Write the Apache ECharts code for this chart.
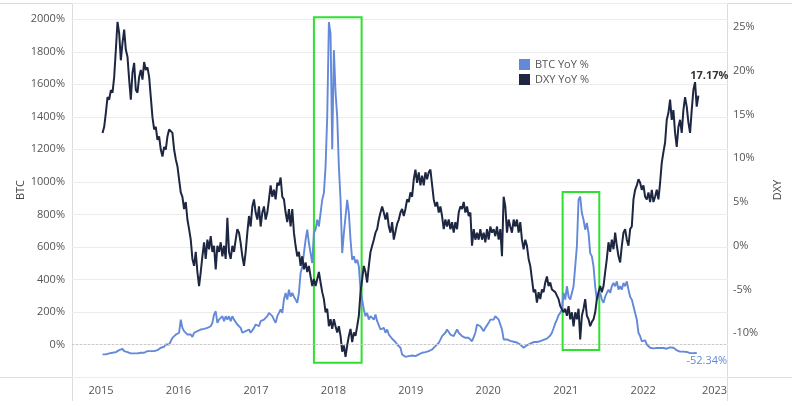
<!DOCTYPE html>
<html><head><meta charset="utf-8">
<script src="https://cdn.jsdelivr.net/npm/echarts@6/dist/echarts.min.js"></script>
<style>html,body{margin:0;padding:0;background:#fff}#c{width:800px;height:406px}</style>
</head><body><div id="c"></div>
<script>
// Readings are sampled on a regular grid of roughly 7.85 days, starting here
const sampleStart = '2015-01-08';
const sampleStepDays = 7.85;

const seriesNames = ['BTC YoY %', 'DXY YoY %'];

const btcYoY = [
-61,-72,-61,-51,-55,-47,-51,-41,-47,-41,
-35,-41,-27,-41,-41,-47,-41,-55,-61,-55,
-51,-55,-47,-51,-47,-51,-47,-41,-47,-41,
-51,-41,-31,-35,-27,-20,-10,-14,0,10,
0,20,41,51,61,51,72,153,102,82,
72,61,51,61,47,72,68,82,76,92,
88,96,92,102,96,112,133,184,204,133,
153,143,174,143,174,153,174,143,174,153,
143,123,112,102,72,61,82,72,92,72,
82,102,123,133,112,143,133,153,143,174,
194,204,174,153,133,174,194,215,194,276,
317,276,337,294,317,294,276,256,317,440,
480,562,644,706,624,562,501,685,706,767,
726,808,890,931,1094,1400,1983,1911,1200,1810,
1550,1400,1094,890,562,685,787,890,808,644,
521,542,501,521,480,337,276,215,174,194,
153,174,184,153,184,143,153,92,82,102,
72,92,61,51,35,31,15,0,-10,-20,
-61,-68,-76,-72,-72,-70,-68,-70,-72,-66,
-61,-55,-51,-49,-47,-44,-41,-36,-31,-20,
-10,0,10,30,51,62,72,92,82,61,
72,51,72,92,72,60,51,45,41,43,
41,30,20,45,72,123,133,112,123,82,
102,92,133,153,163,153,174,163,153,123,
92,31,20,31,25,22,20,17,14,12,
10,0,-10,-20,-10,-5,0,5,10,15,
20,15,10,20,31,28,31,36,41,55,
72,100,130,153,180,194,215,317,276,358,
294,276,317,358,480,603,890,910,808,767,
706,747,685,562,542,480,358,276,294,317,
276,256,294,317,337,317,358,378,358,388,
337,358,337,378,358,388,337,294,276,235,
194,153,72,51,20,31,25,0,-10,-20,
-20,-24,-27,-22,-20,-22,-20,-22,-20,-26,
-31,-18,-10,-20,-31,-36,-41,-44,-47,-44,
-41,-46,-51,-53,-55,-53,-51,-52.34
];

const dxyYoY = [
12.9,13.6,15.2,17.0,16.7,17.8,17.5,19.3,22.4,25.6,
24.3,21.2,23.2,24.7,22.4,21.6,19.0,16.7,19.8,20.9,
17.8,17.5,19.3,20.1,19.0,21.0,20.1,20.4,19.3,17.0,
14.7,13.3,13.6,12.1,12.5,11.0,10.2,11.3,11.0,12.5,
13.3,13.5,12.9,11.0,9.9,9.1,7.6,6.1,5.6,4.2,
5.0,3.0,1.9,0.7,-1.5,-2.3,-0.7,-3.0,-4.6,-3.0,
-1.2,0.4,-1.5,0.7,-0.4,1.1,-0.7,0.0,-2.7,0.0,
-0.7,0.4,-1.2,0.0,-1.5,3.2,-0.7,-1.5,0.0,-0.7,
0.7,1.9,1.5,0.3,-1.2,-2.3,-0.7,1.5,3.4,2.2,
4.5,5.3,3.8,3.0,4.5,2.2,3.8,4.5,3.0,3.8,
5.3,6.9,5.6,6.4,5.3,7.2,6.9,7.8,5.6,5.3,
3.8,2.7,4.2,2.2,4.2,1.5,0.0,-1.2,-0.7,-2.3,
-1.2,-2.7,-1.9,-3.0,-2.3,-3.5,-4.6,-3.8,-4.6,-3.8,
-3.0,-4.2,-5.3,-6.1,-7.6,-7.2,-9.2,-8.4,-9.5,-8.4,
-9.2,-9.9,-9.2,-10.3,-12.1,-11.4,-12.7,-11.4,-10.3,-9.5,
-11.0,-9.9,-10.3,-9.2,-8.0,-5.3,-3.8,-2.3,-3.0,-4.2,
-2.3,-0.7,0.0,0.7,1.5,1.9,3.0,3.8,4.5,3.8,
3.0,3.8,2.2,1.5,2.7,0.7,0.8,2.5,3.0,3.8,
4.2,3.4,4.2,5.3,5.0,6.1,5.6,7.6,8.7,7.2,
8.4,6.9,8.0,6.9,8.4,7.6,8.4,8.7,7.0,5.3,
4.5,5.0,3.8,4.5,3.4,1.9,3.0,2.2,3.0,1.9,
2.7,1.5,2.7,1.9,3.8,4.5,4.2,5.0,3.8,4.5,
3.4,3.8,0.0,1.9,0.7,1.5,0.7,1.9,0.7,1.5,
0.4,1.9,0.7,2.2,1.5,1.9,1.1,2.2,0.7,1.9,
-1.2,5.6,4.5,1.5,3.0,2.2,1.5,3.0,2.2,3.0,
1.5,2.7,0.7,-0.4,0.7,0.0,-1.5,-2.3,-3.8,-5.3,
-5.0,-6.5,-5.3,-6.1,-5.0,-5.3,-4.2,-3.5,-4.6,-4.2,
-5.0,-5.0,-5.3,-5.7,-6.1,-6.9,-6.9,-7.6,-7.2,-8.0,
-6.9,-8.4,-7.6,-9.2,-7.6,-8.4,-7.2,-10.7,-8.0,-7.2,
-6.1,-8.0,-8.4,-9.2,-8.7,-8.4,-7.6,-6.1,-5.3,-4.6,
-5.3,-4.6,-3.0,-1.5,0.4,-0.7,0.7,-0.4,1.5,0.0,
-1.2,-1.9,0.0,1.5,1.9,0.7,0.0,1.9,2.2,5.3,
6.4,6.9,7.6,7.2,6.4,6.9,5.6,5.3,6.1,5.0,
6.4,5.0,5.6,6.4,5.3,7.2,9.5,10.7,11.8,14.4,
15.2,16.7,14.4,15.5,12.9,11.3,13.6,14.4,12.9,15.5,
17.0,15.9,14.1,12.9,15.5,17.8,18.7,15.9,17.17
];

const btcTicks = [0,200,400,600,800,1000,1200,1400,1600,1800,2000];
const dxyTicks = [-10,-5,0,5,10,15,20,25];

// highlighted periods: [startDate, top BTC %, endDate, bottom BTC %]
const highlightBoxes = [
  ['2017-10-01', 2012, '2018-05-14', -112],
  ['2020-12-17', 938, '2021-06-08', -34]
];

const t0 = Date.parse(sampleStart + 'T00:00:00Z');
const step = sampleStepDays * 864e5;
const btcData = btcYoY.map((v, i) => [t0 + i * step, v]);
const dxyData = dxyYoY.map((v, i) => [t0 + i * step, v]);
const btcLast = btcData[btcData.length - 1];
const dxyLast = dxyData[dxyData.length - 1];

const BTC_C = '#6389d8';
const DXY_C = '#1e2742';
const FONT = 'Open Sans';
const GRID = { left: 72, right: 72, top: 3, bottom: 29 };
const lineC = '#dcdcdc';

const chart = echarts.init(document.getElementById('c'), null, { renderer: 'canvas' });
chart.setOption({
  animation: false,
  textStyle: { fontFamily: FONT },
  grid: GRID,
  legend: {
    orient: 'vertical', left: 514, top: 54, itemWidth: 11, itemHeight: 11, itemGap: 4,
    icon: 'rect', textStyle: { fontSize: 11, color: '#555', fontFamily: FONT },
    data: seriesNames
  },
  xAxis: {
    type: 'time',
    min: '2014-08-17', max: '2023-02-05',
    minInterval: 365 * 864e5, maxInterval: 366 * 864e5,
    axisLine: { show: false }, axisTick: { show: false }, splitLine: { show: false },
    axisLabel: {
      margin: 8, fontSize: 11, color: '#555', fontFamily: FONT,
      formatter: v => { const y = new Date(v).getUTCFullYear(); return y === 2023 ? '{r|' + y + '}' : String(y); },
      rich: { r: { fontSize: 11, color: '#555', fontFamily: FONT, padding: [0, 12, 0, 0] } }
    }
  },
  yAxis: [
    {
      type: 'value', min: -200, max: 2100, interval: 200,
      name: 'BTC', nameLocation: 'middle', nameRotate: 90, nameGap: 46, nameMoveOverlap: false,
      nameTextStyle: { fontSize: 11, color: '#444', fontFamily: FONT },
      axisLine: { show: false }, axisTick: { show: false },
      axisLabel: { margin: 7, fontSize: 11, color: '#555', fontFamily: FONT,
        formatter: v => btcTicks.includes(v) ? v + '%' : '' },
      splitLine: { lineStyle: { color: '#ececec', width: 1 } }
    },
    {
      type: 'value', min: -15, max: 27.75, interval: 5,
      name: 'DXY', nameLocation: 'middle', nameRotate: 90, nameGap: 44, nameMoveOverlap: false,
      nameTextStyle: { fontSize: 11, color: '#444', fontFamily: FONT },
      axisLine: { show: false }, axisTick: { show: false },
      axisLabel: { margin: 5, fontSize: 11, color: '#555', fontFamily: FONT,
        formatter: v => dxyTicks.includes(v) ? v + '%' : '' },
      splitLine: { show: false }
    }
  ],
  graphic: [
    { type: 'line', shape: { x1: 0, y1: 3.5, x2: 792, y2: 3.5 }, style: { stroke: lineC, lineWidth: 1 }, silent: true },
    { type: 'line', shape: { x1: 0, y1: 377.5, x2: 792, y2: 377.5 }, style: { stroke: lineC, lineWidth: 1 }, silent: true },
    { type: 'line', shape: { x1: 72.5, y1: 3, x2: 72.5, y2: 401 }, style: { stroke: lineC, lineWidth: 1 }, silent: true },
    { type: 'line', shape: { x1: 727.5, y1: 3, x2: 727.5, y2: 401 }, style: { stroke: lineC, lineWidth: 1 }, silent: true }
  ],
  series: [
    {
      name: seriesNames[0], type: 'line', yAxisIndex: 0, data: btcData,
      showSymbol: false, symbol: 'none', color: BTC_C,
      lineStyle: { color: BTC_C, width: 1.9 }, z: 2,
      markLine: {
        silent: true, symbol: 'none', label: { show: false },
        lineStyle: { color: '#c8c8c8', type: [2, 2], width: 1 },
        data: [{ yAxis: 0 }]
      },
      markArea: {
        silent: true,
        itemStyle: { color: 'rgba(0,0,0,0)', borderColor: '#2fe02f', borderWidth: 2 },
        data: highlightBoxes.map(b => [{ coord: [b[0], b[1]] }, { coord: [b[2], b[3]] }])
      },
      markPoint: {
        silent: true, symbol: 'circle', symbolSize: 1, itemStyle: { color: 'rgba(0,0,0,0)' },
        data: [{ coord: btcLast, value: btcLast[1] }],
        label: { show: true, position: 'bottom', offset: [10, -3], fontSize: 11, color: BTC_C,
          fontFamily: FONT, formatter: p => p.value.toFixed(2) + '%' }
      }
    },
    {
      name: seriesNames[1], type: 'line', yAxisIndex: 1, data: dxyData,
      showSymbol: false, symbol: 'none', color: DXY_C,
      lineStyle: { color: DXY_C, width: 2 }, z: 3,
      markPoint: {
        silent: true, symbol: 'circle', symbolSize: 1, itemStyle: { color: 'rgba(0,0,0,0)' },
        data: [{ coord: dxyLast, value: dxyLast[1] }],
        label: { show: true, position: 'top', offset: [11, -9], fontSize: 11, fontWeight: 'bold',
          color: '#333', fontFamily: FONT, formatter: p => p.value.toFixed(2) + '%' }
      }
    }
  ]
});
</script></body></html>
